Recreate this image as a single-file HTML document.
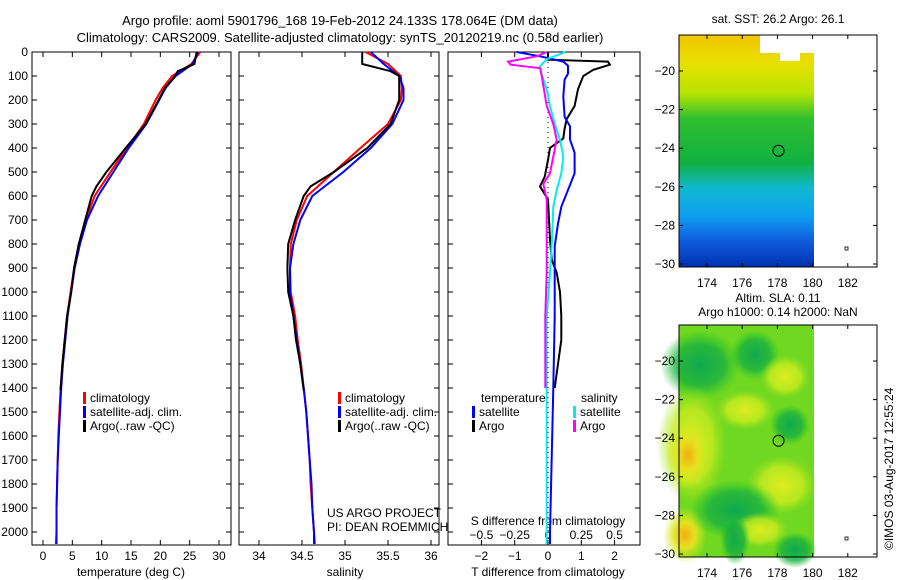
<!DOCTYPE html>
<html><head><meta charset="utf-8"><style>
body{margin:0;background:#fff}
svg{display:block;font-family:"Liberation Sans",sans-serif}
text{font-size:12px;fill:#000}
</style></head><body>
<svg id="c" width="900" height="580" viewBox="0 0 900 580">
<defs>
<linearGradient id="sst" x1="0" y1="0" x2="0" y2="1">
<stop offset="0" stop-color="#f2c400"/><stop offset="0.12" stop-color="#e8e000"/><stop offset="0.25" stop-color="#b8e400"/><stop offset="0.36" stop-color="#30c030"/><stop offset="0.55" stop-color="#10b040"/><stop offset="0.66" stop-color="#10b8d0"/><stop offset="0.78" stop-color="#10a0f0"/><stop offset="0.88" stop-color="#1060e0"/><stop offset="1" stop-color="#0030b0"/>
</linearGradient>
<radialGradient id="yb"><stop offset="0" stop-color="#f0b010"/><stop offset="0.45" stop-color="#e8e020"/><stop offset="1" stop-color="#c8f020" stop-opacity="0"/></radialGradient>
<radialGradient id="ly"><stop offset="0" stop-color="#e0ec20"/><stop offset="0.6" stop-color="#c8ec20" stop-opacity="0.8"/><stop offset="1" stop-color="#a0e020" stop-opacity="0"/></radialGradient>
<radialGradient id="gb"><stop offset="0" stop-color="#10a850"/><stop offset="0.6" stop-color="#18b040" stop-opacity="0.8"/><stop offset="1" stop-color="#20c030" stop-opacity="0"/></radialGradient>
</defs>
<g id="texts">
<text x="340" y="25" text-anchor="middle" style="font-size:13px">Argo profile: aoml 5901796_168 19-Feb-2012 24.133S 178.064E (DM data)</text>
<text x="340" y="42" text-anchor="middle" style="font-size:13px">Climatology: CARS2009. Satellite-adjusted climatology: synTS_20120219.nc (0.58d earlier)</text>
<text x="131" y="576" text-anchor="middle">temperature (deg C)</text>
<text x="345" y="576" text-anchor="middle">salinity</text>
<text x="548" y="576" text-anchor="middle">T difference from climatology</text>
<text x="548" y="525" text-anchor="middle">S difference from climatology</text>
<text x="327" y="517">US ARGO PROJECT</text>
<text x="327" y="531">PI: DEAN ROEMMICH</text>
<text x="778" y="23" text-anchor="middle">sat. SST: 26.2 Argo: 26.1</text>
<text x="778" y="302" text-anchor="middle">Altim. SLA: 0.11</text>
<text x="778" y="316" text-anchor="middle">Argo h1000: 0.14 h2000: NaN</text>
<text transform="translate(893,550) rotate(-90)">©IMOS 03-Aug-2017 12:55:24</text>
</g>
<g id="plots"></g>
</svg>
<script>
// depth profiles
const depthsA=[0,50,80,100,150,200,300,400,500,560,600,700,800,900,1000,1100,1200,1300,1410];
const tempArgo=[26.2,25.8,23,22.5,20.8,19.7,17.5,14.1,10.8,9.1,8.3,7.2,6.1,5.3,4.8,4.1,3.7,3.3,3.0];
const salArgo=[35.2,35.2,35.53,35.63,35.63,35.63,35.53,35.26,34.87,34.6,34.52,34.42,34.34,34.33,34.34,34.4,34.43,34.48,34.52];
const depthsC=[0,50,100,150,200,300,400,500,600,700,800,900,1000,1100,1200,1300,1400,1500,1600,1700,1800,1900,2000,2050];
const tempClim=[26.8,25.3,22.0,20.4,19.2,17.2,14.3,11.5,8.8,7.3,6.1,5.3,4.7,4.1,3.7,3.3,3.0,2.8,2.6,2.5,2.4,2.3,2.3,2.2];
const tempSat=[26.4,25.5,22.6,20.9,19.8,17.6,14.6,12.0,9.4,7.5,6.3,5.4,4.8,4.2,3.8,3.4,3.1,2.9,2.7,2.5,2.4,2.3,2.3,2.3];
const salClim=[35.24,35.5,35.65,35.66,35.65,35.5,35.18,34.87,34.56,34.44,34.37,34.36,34.37,34.42,34.45,34.49,34.52,34.55,34.57,34.59,34.6,34.62,34.64,34.65];
const salSat=[35.3,35.45,35.63,35.68,35.68,35.55,35.3,34.98,34.62,34.48,34.4,34.36,34.36,34.4,34.44,34.48,34.52,34.55,34.57,34.59,34.61,34.62,34.64,34.64];
// difference profiles
const dDepthT=[0,32,40,53,74,100,155,225,280,320,360,400,450,520,560,615,780,865,920,1000,1100,1200,1300,1400];
const dTArgo=[0,0,1.8,1.86,1.36,1.06,0.9,0.8,0.56,0.5,0.46,0.06,0,-0.1,-0.24,0,0.06,0.11,0.26,0.36,0.4,0.4,0.3,0.2];
const dTSatDepth=[0,18,40,57,90,115,185,270,310,365,420,505,575,645,715,810,920,1100,1400,2000,2050];
const dTSat=[-0.94,-0.24,0.46,0.6,0.6,0.5,0.46,0.5,0.66,0.66,0.8,0.8,0.6,0.4,0.3,0.2,0.2,0.2,0.16,0.06,0.06];
const dSSatDepth=[0,30,60,90,155,225,300,365,435,505,575,645,780,920,1100,1400,2000,2050];
const dSSat=[0.13,-0.01,-0.06,-0.05,-0.01,0.015,0.05,0.09,0.115,0.1,0.065,0.04,0.03,0.015,-0.01,-0.01,-0.01,-0.01];
const dSArgoDepth=[0,18,40,53,67,90,140,225,300,365,435,505,550,615,715,855,920,1100,1400];
const dSArgo=[-0.01,-0.085,-0.3,-0.28,-0.06,-0.05,-0.035,-0.01,0.04,0.065,0.04,0.015,-0.035,-0.01,-0.01,-0.01,-0.01,-0.02,-0.02];
// ticks
const depthTicks=[0,100,200,300,400,500,600,700,800,900,1000,1100,1200,1300,1400,1500,1600,1700,1800,1900,2000];
const tTicks=[0,5,10,15,20,25,30];
const sTicks=[34,34.5,35,35.5,36];
const tdTicks=[-2,-1,0,1,2];
const sdTicks=[-0.5,-0.25,0,0.25,0.5];
const latTicks=[-20,-22,-24,-26,-28,-30];
const lonTicks=[174,176,178,180,182];

const NS='http://www.w3.org/2000/svg';
const G=document.getElementById('plots');
function el(t,a,p){const e=document.createElementNS(NS,t);for(const k in a)e.setAttribute(k,a[k]);(p||G).appendChild(e);return e;}
const TOP=52,BOT=545;
const yD=d=>TOP+d*0.24;
const xT=v=>43+v*(176/30);
const xS=v=>259+(v-34)*86;
const xTd=v=>548+v*33.3;
const xSd=v=>548+v*133.2;

function panel(name,x0,x1){
  const r=el('rect',{x:x0,y:TOP,width:x1-x0,height:BOT-TOP,fill:'none',stroke:'#000','stroke-width':1});
  
  
  depthTicks.forEach(d=>{
    const y=yD(d);
    el('line',{x1:x0,x2:x0+5,y1:y,y2:y,stroke:'#000'});
    el('line',{x1:x1-5,x2:x1,y1:y,y2:y,stroke:'#000'});
  });
}
function xticks(vals,fx,ylab,top,name){
  vals.forEach(v=>{
    const x=fx(v);
    if(top){el('line',{x1:x,x2:x,y1:TOP,y2:TOP+5,stroke:'#000'});}
    el('line',{x1:x,x2:x,y1:BOT-5,y2:BOT,stroke:'#000'});
    const t=el('text',{x:x,y:ylab,'text-anchor':'middle'});t.textContent=String(v).replace('-','\u2212');
    
    
  });
}
function line(xs,ds,fx,color,name,w){
  const pts=xs.map((v,i)=>fx(v).toFixed(1)+','+yD(ds[i]).toFixed(1)).join(' ');
  const p=el('polyline',{points:pts,fill:'none',stroke:color,'stroke-width':w||2});
  
  
}
panel('temperature-panel',32,231);
panel('salinity-panel',239,439);
panel('difference-panel',448,640);
depthTicks.forEach(d=>{
  const t=el('text',{x:28,y:yD(d)+4,'text-anchor':'end'});t.textContent=d;
  
  
});
xticks(tTicks,xT,560,true,'x-tick-temperature');
xticks(sTicks,xS,560,true,'x-tick-salinity');
xticks(tdTicks,xTd,560,false,'x-tick-t-diff');
sdTicks.forEach(v=>{
  const t=el('text',{x:xSd(v),y:539,'text-anchor':'middle'});t.textContent=String(v).replace('-','\u2212');
  
  
  el('line',{x1:xSd(v),x2:xSd(v),y1:TOP,y2:TOP+5,stroke:'#000'});
});
el('line',{x1:548,x2:548,y1:TOP,y2:BOT,stroke:'#000','stroke-dasharray':'1,4'});

line(tempClim,depthsC,xT,'#f00','temperature-climatology-line');
line(tempSat,depthsC,xT,'#00f','temperature-satellite-line');
line(tempArgo,depthsA,xT,'#000','temperature-argo-line');
line(salClim,depthsC,xS,'#f00','salinity-climatology-line');
line(salSat,depthsC,xS,'#00f','salinity-satellite-line');
line(salArgo,depthsA,xS,'#000','salinity-argo-line');
line(dTArgo,dDepthT,xTd,'#000','t-diff-argo-line');
line(dTSat,dTSatDepth,xTd,'#00f','t-diff-satellite-line');
line(dSSat,dSSatDepth,xSd,'#0ee','s-diff-satellite-line');
line(dSArgo,dSArgoDepth,xSd,'#f0f','s-diff-argo-line');

function legend(x,y,items,name){
  items.forEach((it,i)=>{
    const yy=y+i*14;
    const m=el('rect',{x:x,y:yy-10,width:3,height:12,fill:it[1]});
    
    
    const t=el('text',{x:x+7,y:yy});t.textContent=it[0];
    
    
  });
}
const legItems=[['climatology','#f00'],['satellite-adj. clim.','#00f'],['Argo(..raw -QC)','#000']];
legend(83,402,legItems,'temperature-legend');
legend(338,402,legItems,'salinity-legend');
[['temperature',481,402],['salinity',581,402]].forEach(a=>{const t=el('text',{x:a[1],y:a[2]});t.textContent=a[0];
  
  });
legend(472,416,[['satellite','#00f'],['Argo','#000']],'t-diff-legend');
legend(573,416,[['satellite','#0ee'],['Argo','#f0f']],'s-diff-legend');

// maps
const xLon=v=>707+(v-174)*17.6;
function map(name,y0,fillFn){
  const g=el('g',{});
  
  
  const yLat=v=>71+(-20-v)*19.3+(y0-35);
  fillFn(g,y0);
  el('rect',{x:679,y:y0,width:198,height:232,fill:'none',stroke:'#000'},g);
  latTicks.forEach(v=>{const y=yLat(v);
    el('line',{x1:679,x2:683,y1:y,y2:y,stroke:'#000'},g);el('line',{x1:873,x2:877,y1:y,y2:y,stroke:'#000'},g);
    const t=el('text',{x:675,y:y+4,'text-anchor':'end'},g);t.textContent=String(v).replace('-','\u2212');});
  lonTicks.forEach(v=>{const x=xLon(v);
    el('line',{x1:x,x2:x,y1:y0,y2:y0+4,stroke:'#000'},g);el('line',{x1:x,x2:x,y1:y0+228,y2:y0+232,stroke:'#000'},g);
    const t=el('text',{x:x,y:y0+252,'text-anchor':'middle'},g);t.textContent=v;});
  el('circle',{cx:xLon(178.064),cy:yLat(-24.133),r:5.5,fill:'none',stroke:'#000'},g);
  el('rect',{x:845,y:y0+212,width:3,height:3,fill:'none',stroke:'#000','stroke-width':0.8},g);
}
map('sst-map',35,(g,y0)=>{
  el('rect',{x:679,y:y0,width:135,height:232,fill:'url(#sst)'},g);
  el('rect',{x:760,y:y0,width:54,height:18,fill:'#fff'},g);
  el('rect',{x:780,y:y0+18,width:20,height:8,fill:'#fff'},g);
});
map('sla-map',325,(g,y0)=>{
  el('rect',{x:679,y:y0,width:135,height:232,fill:'#70d820'},g);
  el('ellipse',{cx:700,cy:y0+40,rx:40,ry:35,fill:'url(#gb)'},g);
  el('ellipse',{cx:755,cy:y0+30,rx:25,ry:25,fill:'url(#gb)'},g);
  el('ellipse',{cx:692,cy:y0+120,rx:35,ry:60,fill:'url(#ly)'},g);
  el('ellipse',{cx:688,cy:y0+130,rx:22,ry:35,fill:'url(#yb)'},g);
  el('ellipse',{cx:685,cy:y0+210,rx:22,ry:28,fill:'url(#yb)'},g);
  el('ellipse',{cx:745,cy:y0+85,rx:30,ry:20,fill:'url(#ly)'},g);
  el('ellipse',{cx:782,cy:y0+160,rx:35,ry:30,fill:'url(#ly)'},g);
  el('ellipse',{cx:785,cy:y0+52,rx:25,ry:22,fill:'url(#ly)'},g);
  el('ellipse',{cx:790,cy:y0+100,rx:20,ry:20,fill:'url(#gb)'},g);
  el('ellipse',{cx:735,cy:y0+185,rx:45,ry:30,fill:'url(#gb)'},g);
  el('ellipse',{cx:760,cy:y0+205,rx:28,ry:18,fill:'url(#ly)'},g);
  el('ellipse',{cx:795,cy:y0+225,rx:22,ry:18,fill:'url(#gb)'},g);
  el('ellipse',{cx:735,cy:y0+215,rx:15,ry:25,fill:'url(#gb)'},g);
});
</script>
</body></html>
